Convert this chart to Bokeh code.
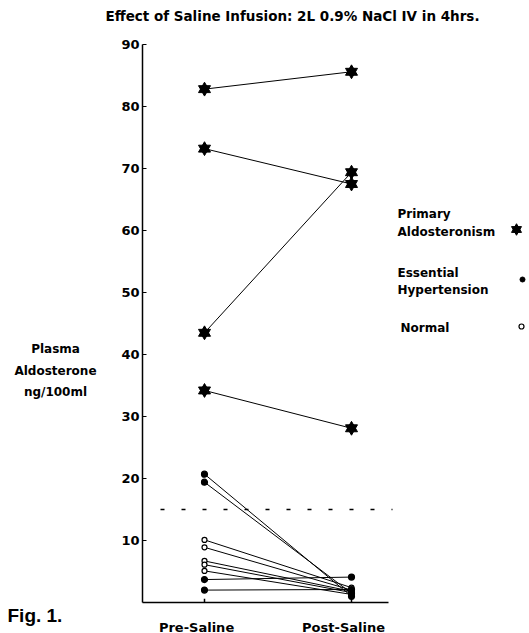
from bokeh.plotting import figure
from bokeh.models import Range1d, FixedTicker, Label
from bokeh.embed import file_html
from bokeh.resources import INLINE

# Plasma aldosterone (ng/100ml) before and after saline infusion
pa_pre = [82.8, 73.2, 43.5, 34.2]      # primary aldosteronism
pa_post = [85.6, 67.5, 69.4, 28.1]
eh_pre = [20.7, 19.4, 3.7, 2.0]        # essential hypertension
eh_post = [1.0, 1.5, 4.1, 2.1]
nl_pre = [10.1, 8.9, 6.7, 6.1, 5.1]    # normal
nl_post = [2.4, 2.0, 1.8, 1.6, 1.3]
threshold = 15
x_labels = ["Pre-Saline", "Post-Saline"]
y_ticks = [10, 20, 30, 40, 50, 60, 70, 80, 90]
title = "Effect of Saline Infusion: 2L 0.9% NaCl IV in 4hrs."
y_title = ["Plasma", "Aldosterone", "ng/100ml"]
legend_names = [["Primary", "Aldosteronism"], ["Essential", "Hypertension"], ["Normal"]]
fig_label = "Fig. 1."

PRE, POST = 1, 2
BOLD = "DejaVu Sans"
W, H = 529, 633

# The frame fills the whole canvas; axes sit at fixed data positions inside it.
XPX, X0PX = 147.0, 204.0      # pixels per category step, pixel of PRE
YPX, Y0PX = 6.2, 602.0        # pixels per ng/100ml, pixel row of zero


def dx(px):
    return PRE + (px - X0PX) / XPX


def dy(py):
    return (Y0PX - py) / YPX


X_AXIS_END = dx(388)
Y_AXIS_X = dx(142)

p = figure(width=W, height=H, output_backend="svg", toolbar_location=None,
           x_range=Range1d(dx(0), dx(W)), y_range=Range1d(dy(H), dy(0)),
           min_border=0, outline_line_color=None,
           background_fill_color="white", border_fill_color="white")
p.grid.visible = False

# y axis
p.yaxis.fixed_location = Y_AXIS_X
p.yaxis.ticker = FixedTicker(ticks=y_ticks)
p.yaxis.minor_tick_line_color = None
p.yaxis.axis_line_color = None
p.yaxis.major_tick_in = 4
p.yaxis.major_tick_out = 0
p.yaxis.major_label_standoff = 3
p.yaxis.major_label_text_font = BOLD
p.yaxis.major_label_text_font_style = "bold"
p.yaxis.major_label_text_font_size = "13px"
p.yaxis.major_label_text_color = "black"

# x axis: category names sit slightly left of their columns
LABEL_SHIFT = -0.054
p.xaxis.fixed_location = 0
p.xaxis.ticker = FixedTicker(ticks=[PRE + LABEL_SHIFT, POST + LABEL_SHIFT])
p.xaxis.major_label_overrides = {PRE + LABEL_SHIFT: x_labels[0],
                                 POST + LABEL_SHIFT: x_labels[1]}
p.xaxis.minor_tick_line_color = None
p.xaxis.major_tick_line_color = None
p.xaxis.axis_line_color = None
p.xaxis.major_label_standoff = 11
p.xaxis.major_label_text_font = BOLD
p.xaxis.major_label_text_font_style = "bold"
p.xaxis.major_label_text_font_size = "13px"
p.xaxis.major_label_text_color = "black"

# axis lines: the baseline stops short of the legend area
p.segment(x0=[Y_AXIS_X], y0=[0], x1=[Y_AXIS_X], y1=[90], line_color="black", line_width=1.5)
p.segment(x0=[Y_AXIS_X], y0=[0], x1=[X_AXIS_END], y1=[0], line_color="black", line_width=1.5)
p.segment(x0=[PRE, POST], y0=[0, 0], x1=[PRE, POST], y1=[0.6, 0.6],
          line_color="black", line_width=1.5)

# upper limit of normal
p.segment(x0=[dx(160)], y0=[threshold], x1=[dx(392)], y1=[threshold],
          line_color="black", line_width=1.3, line_dash="4 17")


def star6(xs, ys, size):
    p.scatter(xs, ys, marker="triangle", size=size, color="black")
    p.scatter(xs, ys, marker="inverted_triangle", size=size, color="black")


def pairs(pre, post, marker, fill, size):
    n = len(pre)
    p.segment(x0=[PRE] * n, y0=pre, x1=[POST] * n, y1=post,
              line_color="black", line_width=1)
    xs = [PRE] * n + [POST] * n
    ys = list(pre) + list(post)
    if marker == "star6":
        star6(xs, ys, size)
    else:
        p.scatter(xs, ys, marker=marker, size=size, fill_color=fill,
                  line_color="black", line_width=1.2)


pairs(nl_pre, nl_post, "circle", "white", 5)
pairs(eh_pre, eh_post, "circle", "black", 6)
pairs(pa_pre, pa_post, "star6", "black", 12)


def lab(px, py, text, size="12px", align="left", font=BOLD):
    p.add_layout(Label(x=dx(px), y=dy(py), text=text, text_font=font,
                       text_font_style="bold", text_font_size=size,
                       text_align=align, text_baseline="middle", text_color="black"))


# legend
star6([dx(516)], [dy(229)], 10)
p.scatter([dx(522)], [dy(279)], marker="circle", size=5, color="black")
p.scatter([dx(521)], [dy(326)], marker="circle", size=5, fill_color="white",
          line_color="black", line_width=1.2)
lab(397, 213, legend_names[0][0])
lab(397, 231, legend_names[0][1])
lab(397, 272, legend_names[1][0])
lab(397, 289, legend_names[1][1])
lab(400, 327, legend_names[2][0])

# y-axis title
lab(55, 348, y_title[0], align="center")
lab(55, 370, y_title[1], align="center")
lab(55, 391, y_title[2], align="center")

# heading and figure number
lab(292, 15, title, size="13.5px", align="center")
lab(7, 615, fig_label, size="19px", font="Liberation Sans")

open("out.html", "w").write(file_html(p, INLINE))
